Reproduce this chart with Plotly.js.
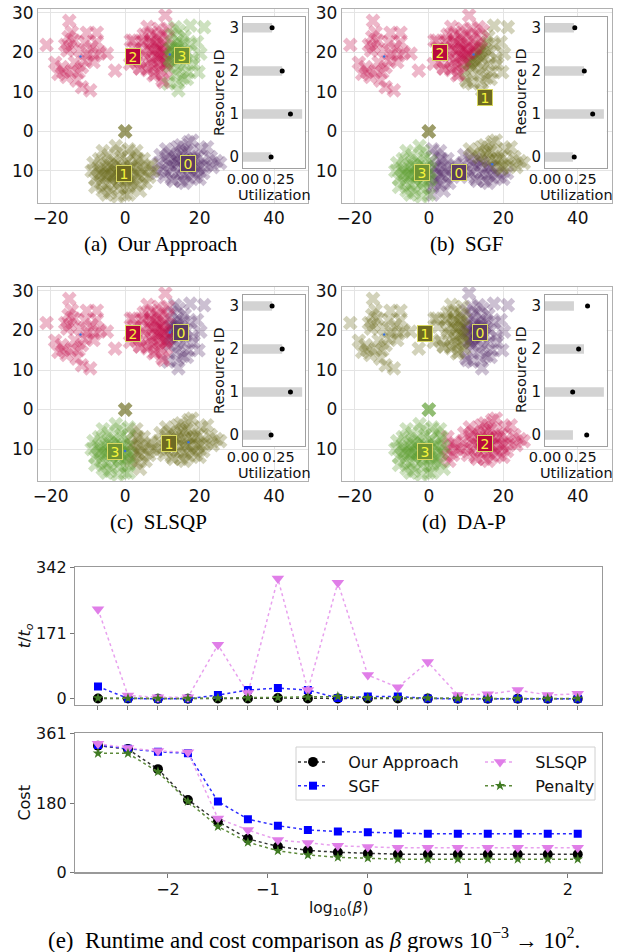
<!DOCTYPE html>
<html><head><meta charset="utf-8">
<script src="https://cdn.plot.ly/plotly-3.0.1.min.js"></script>
<style>html,body{margin:0;padding:0;background:#fff}</style>
</head><body><div id="chart" style="width:624px;height:952px"></div>
<script>
// ---------------- DATA ----------------
// Demand points (same point set in all four panels)
const ulPts = [[-15,28],[-10.3,25],[-7.6,25],[-15.2,23.9],[-13.7,23],[-16.1,21.9],[-14.8,21.4],[-12.1,20.5],[-10.8,22.6],[-9,21.4],[-4.9,19.7],[-8.1,19.2],[-8.5,17.6],[-11.6,16.3],[-14.3,15.4],[-16.6,15],[-17.9,14.6],[-15.7,13.8],[-13,12.9],[-11.6,11.2],[-9.4,10.4],[-2.7,15.4],[-21.1,21.9],[-18.8,17.4],[-7.6,22.6],[-10.8,18],[-17,16.3],[-12.5,15],[-10,19.6],[-14.3,25.1],[-6.7,20],[-15.5,20.5],[-13.5,17.5]];
const urPts = [[1.5,23],[2.5,21],[3,17.5],[4,16],[4.5,22.5],[5,24.5],[5.5,19],[6,21],[6,15.5],[6.5,23.5],[7,18],[7,25],[7.5,20.5],[7.5,16.5],[8,22],[8,14.5],[8.5,19],[8.5,24],[9,17],[9,21],[9.5,23],[9.5,15.5],[10,19.5],[10,25],[10,13],[10.5,17.5],[10.5,22],[10.8,29.4],[11,20],[11,15.5],[11.5,18],[11.5,23.5],[12,21],[12,16.5],[11.6,12.1],[12.5,19],[12.5,24.5],[13,22],[13,17.5],[13.5,20],[13.5,14.5],[14,23],[14,18.5],[14.5,25.5],[14.5,16],[15,21],[15,19],[15.5,22.5],[15.5,13.5],[16,17],[16,24],[16.5,20],[17.5,26.8],[17,15],[17.5,22],[18,18.5],[19.7,15],[20.2,19.7],[21.2,26.4],[13.4,26.4],[19.3,22.6],[18.4,17.1],[16.6,13.3],[13.9,12.5],[14.3,10.4],[10.3,12.5],[7.6,14.2],[4,15.9],[1.3,17.1],[2.2,23],[4.9,23],[5,20],[6.5,17],[8,20],[9,19],[10,21],[11,17],[12.5,21],[13,19.5],[14,20.5],[8.5,22.5],[7,22.5],[9.5,18],[10.5,20],[12,18],[14,21.5],[9,26],[6,26.5],[11.5,26]];
const llPts = [[-9,-10],[-8.5,-8],[-8,-12],[-7.5,-9.5],[-7,-11],[-7,-7],[-6.5,-13],[-6,-9],[-6,-15],[-5.5,-11],[-5,-8],[-5,-13.5],[-4.5,-10],[-4.5,-6],[-4,-12],[-4,-15.5],[-3.5,-9],[-3,-11],[-3,-7.5],[-3,-13],[-2.5,-3.7],[-2.5,-10],[-2,-12],[-2,-8.5],[-1.5,-14.5],[-1,-11],[-1,-6.5],[-0.5,-9],[0,-12.5],[0,-10],[0,-16],[0.5,-7.5],[1,-11],[1,-14],[1.5,-9],[2,-12],[2,-6],[2.5,-10.5],[3,-8],[3,-13.5],[3.5,-11],[4,-9.5],[4,-15],[4.5,-12],[5,-7],[5,-10],[5.5,-13],[6,-9],[6.5,-11.5],[7,-8.5],[7.5,-10],[-2,-16.5],[1,-16],[-5,-16],[-8,-14],[-6,-5],[1,-4.5],[-1.5,-5],[3,-5],[-3.5,-11.5],[-2,-10.5],[-1,-9.5],[0.5,-12],[-4,-8.5],[2,-9],[-6.5,-10.5],[-1.5,-13],[1.5,-13],[3.5,-7],[-5,-11]];
const lrPts = [[8.5,-10.5],[9,-8],[9.5,-6],[10,-9.5],[10.5,-11.5],[11,-7],[11.5,-10],[12,-5.5],[12,-8.5],[12.5,-12],[13,-9],[13.5,-6.5],[14,-10.5],[14,-4],[14.5,-8],[15,-12.5],[15,-6],[15.5,-9.5],[16,-7.5],[16,-11],[16.5,-5],[17,-9],[17,-2.7],[17.5,-7],[18,-10.5],[18,-5.5],[18.5,-8.5],[19,-11.5],[19.5,-6.5],[20,-9],[20.5,-4.5],[21,-7.5],[21,-10.5],[22,-4],[22,-8.5],[23,-6.5],[23.5,-9],[24.5,-7.5],[25.5,-8],[13,-12.5],[16,-13],[18,-2.3],[20,-12],[11,-4.5],[15,-3.5],[17,-12],[14,-7.5],[16.5,-9],[18.5,-7],[12.5,-7],[15.5,-5],[19.5,-9.5]];
const zPts = [[0,0],[0,0],[0,0]];
const centroids = [[-12,19],[12,19.5],[17,-8.3],[0,-10.5]];

// Per panel, per cluster: [idIfFalse, idIfTrue, a, b, c]  -> a*x+b*y > c ? idIfTrue : idIfFalse
const assignA = {ul:[2,2,1,0,0], ur:[2,3,1,0,11.5], ll:[1,1,1,0,0], lr:[0,0,1,0,0], z:[1,1,1,0,0]};
const assignB = {ul:[2,2,1,0,0], ur:[2,1,1.4,-1,-3], ll:[3,0,1,0,0.5], lr:[0,1,0.5,1,0], z:[1,1,1,0,0]};
const assignC = {ul:[2,2,1,0,0], ur:[2,0,1,0,11.5], ll:[3,1,1,0,1], lr:[1,1,1,0,0], z:[1,1,1,0,0]};
const assignD = {ul:[1,1,1,0,0], ur:[1,0,1,0,9.5], ll:[3,2,1,0,4], lr:[2,2,1,0,0], z:[3,3,1,0,0]};

// Resource label positions per panel: [id, x, y]
const labelsA = [[2,2.2,19.0],[3,15.2,19.2],[1,-0.4,-10.7],[0,17.0,-8.0]];
const labelsB = [[2,3.0,20.1],[1,15.2,8.7],[3,-1.9,-10.5],[0,8.2,-10.3]];
const labelsC = [[2,2.2,19.3],[0,15.1,19.6],[1,11.8,-8.5],[3,-2.7,-10.6]];
const labelsD = [[1,-1.0,19.2],[0,13.7,19.6],[3,-0.9,-10.6],[2,15.0,-8.5]];

// Inset: capacity bars and utilization dots for resources 0..3
const resourceIds = [0,1,2,3];
const capacity = [0.197,0.415,0.275,0.204];
const utilA = [0.197,0.333,0.275,0.204];
const utilB = [0.206,0.336,0.277,0.21];
const utilC = [0.197,0.333,0.275,0.204];
const utilD = [0.294,0.195,0.237,0.30];

// Runtime / cost comparison
const betaLog = [-2.7,-2.4,-2.1,-1.8,-1.5,-1.2,-0.9,-0.6,-0.3,0.0,0.3,0.6,0.9,1.2,1.5,1.8,2.1];
const rtOur   = [1,1,0,0,1,1,2,1,1,1,1,1,0,0,0,0,0];
const rtSGF   = [32,1,0,0,10,23,28,23,2,6,6,1,0,0,0,0,0];
const rtSLSQP = [234,9,4,4,141,15,314,23,303,62,30,96,10,12,23,10,13];
const rtPen   = [2,1,1,1,2,2,3,4,6,3,3,2,1,1,1,1,1];
const costOur   = [329,320,268,188,132,87,67,57,52,49,47,47,47,47,47,47,47];
const costSGF   = [331,321,313,309,184,138,121,110,106,104,101,100,100,100,100,100,100];
const costSLSQP = [334,323,315,312,140,110,84,76,69,66,64,64,64,64,64,64,64];
const costPen   = [309,309,261,184,119,78,56,45,39,37,34,34,34,34,34,34,34];

// ---------------- STYLE ----------------
const FONT = 'DejaVu Sans, sans-serif';
const SERIF = 'Liberation Serif, Times New Roman, serif';
const resColor = ['#55306a','#6b6a1a','#c4104c','#5a9a2c'];
const boxColor = ['#5a3b63','#6e6a22','#b8083e','#6f9434'];
const PAD = '\u00a0\u00a0\u00a0';

const traces = [];
const annotations = [];
const layout = {
  width:624, height:952, margin:{l:0,r:0,t:0,b:0},
  paper_bgcolor:'#fff', plot_bgcolor:'#fff',
  font:{family:FONT, size:15, color:'#111'},
  showlegend:true, annotations:annotations, shapes:[]
};

const panels = [
  {assign:assignA, labels:labelsA, util:utilA, xd:[0.0609,0.4936], yd:[0.7868,0.9905], ixd:[0.3894,0.4888], iyd:[0.8232,0.9825], cap:'(a)\u2002Our Approach', cx:161, cy:244, ox:0, oy:0},
  {assign:assignB, labels:labelsB, util:utilB, xd:[0.5476,0.9803], yd:[0.7868,0.9905], ixd:[0.8734,0.9723], iyd:[0.8232,0.9825], cap:'(b)\u2002SGF', cx:467, cy:244, ox:302, oy:0},
  {assign:assignC, labels:labelsC, util:utilC, xd:[0.0609,0.4936], yd:[0.4947,0.6985], ixd:[0.3894,0.4888], iyd:[0.5312,0.6904], cap:'(c)\u2002SLSQP', cx:158, cy:522, ox:0, oy:278},
  {assign:assignD, labels:labelsD, util:utilD, xd:[0.5476,0.9803], yd:[0.4947,0.6985], ixd:[0.8734,0.9723], iyd:[0.5312,0.6904], cap:'(d)\u2002DA-P', cx:464, cy:522, ox:302, oy:278}
];
const clusters = {ul:ulPts, ur:urPts, ll:llPts, lr:lrPts, z:zPts};

panels.forEach((p, k) => {
  const mi = 2*k+1, ii = 2*k+2;
  const mx = mi===1 ? 'x' : 'x'+mi, my = mi===1 ? 'y' : 'y'+mi;
  const ix = 'x'+ii, iy = 'y'+ii;
  const xs = [[],[],[],[]], ys = [[],[],[],[]];
  Object.keys(clusters).forEach(c => {
    const r = p.assign[c];
    clusters[c].forEach(pt => {
      const id = (r[2]*pt[0] + r[3]*pt[1] > r[4]) ? r[1] : r[0];
      xs[id].push(pt[0]); ys[id].push(pt[1]);
    });
  });
  for (let id=0; id<4; id++) {
    traces.push({type:'scatter', mode:'markers', x:xs[id], y:ys[id], xaxis:mx, yaxis:my,
      marker:{symbol:'x', size:13, color:resColor[id], opacity:0.3, line:{width:0}},
      showlegend:false, hoverinfo:'skip'});
  }
  traces.push({type:'scatter', mode:'markers', x:centroids.map(c=>c[0]), y:centroids.map(c=>c[1]),
    xaxis:mx, yaxis:my, marker:{size:2.5, color:'#3a6fd8'}, showlegend:false, hoverinfo:'skip'});
  // inset
  traces.push({type:'bar', orientation:'h', x:capacity, y:resourceIds, width:0.22, xaxis:ix, yaxis:iy,
    marker:{color:'#d3d3d3', line:{width:0}}, showlegend:false, hoverinfo:'skip'});
  traces.push({type:'scatter', mode:'markers', x:p.util, y:resourceIds, xaxis:ix, yaxis:iy,
    marker:{size:5, color:'#000'}, showlegend:false, hoverinfo:'skip'});

  const axKeyX = mi===1 ? 'xaxis' : 'xaxis'+mi, axKeyY = mi===1 ? 'yaxis' : 'yaxis'+mi;
  layout[axKeyX] = {domain:p.xd, anchor:my, range:[-23.4,49.1], tickmode:'array', tickvals:[-20,0,20,40],
    showgrid:true, gridcolor:'#e4e4e4', gridwidth:1, zeroline:false, showline:true, mirror:true,
    linecolor:'#b0b0b0', linewidth:1, ticks:'', tickfont:{size:17, family:FONT, color:'#111'}};
  layout[axKeyY] = {domain:p.yd, anchor:mx, range:[-18.1,31], tickmode:'array', tickvals:[-10,0,10,20,30],
    ticktext:['10','0','10','20','30'], showgrid:true, gridcolor:'#e4e4e4', zeroline:false, showline:true,
    mirror:true, linecolor:'#b0b0b0', linewidth:1, ticks:'', tickfont:{size:17, family:FONT, color:'#111'}};
  layout['xaxis'+ii] = {domain:p.ixd, anchor:iy, range:[0,0.435], tickmode:'array', tickvals:[0,0.25],
    ticktext:['0.00','0.25'], showgrid:false, zeroline:false, showline:true, mirror:true, linecolor:'#a0a0a0',
    ticks:'', ticklabelstandoff:-3, tickfont:{size:14.5, family:FONT, color:'#111'}};
  layout['yaxis'+ii] = {domain:p.iyd, anchor:ix, range:[-0.26,3.26], tickmode:'array', tickvals:[0,1,2,3],
    showgrid:false, zeroline:false, showline:true, mirror:true, linecolor:'#a0a0a0', ticks:'',
    tickfont:{size:15, family:FONT, color:'#111'}};
  // inset axis titles
  annotations.push({xref:'paper', yref:'paper', x:(274+p.ox)/624, y:1-(195+p.oy)/952, xanchor:'center', yanchor:'middle',
    text:'Utilization', showarrow:false, font:{size:14.5, family:FONT, color:'#111'}});
  annotations.push({xref:'paper', yref:'paper', x:(219+p.ox)/624, y:1-(92+p.oy)/952, xanchor:'center', yanchor:'middle',
    text:'Resource ID', textangle:-90, showarrow:false, font:{size:14.5, family:FONT, color:'#111'}});

  p.labels.forEach(l => {
    annotations.push({xref:mx, yref:my, x:l[1], y:l[2], text:String(l[0]), showarrow:false,
      bgcolor:boxColor[l[0]], bordercolor:'#d8d860', borderwidth:1, borderpad:0, width:14, height:15,
      font:{size:14, family:FONT, color:'#f4f43a'}});
  });
  annotations.push({xref:'paper', yref:'paper', x:p.cx/624, y:1-p.cy/952, xanchor:'center', yanchor:'middle',
    text:p.cap, showarrow:false, font:{family:SERIF, size:21, color:'#000'}});
});

// ---- runtime & cost charts ----
const series = [
  {name:'Our Approach', rt:rtOur, cost:costOur, color:'#000000', sym:'circle', size:10, lg:'legend'},
  {name:'SGF', rt:rtSGF, cost:costSGF, color:'#0000ff', sym:'square', size:8, lg:'legend'},
  {name:'SLSQP', rt:rtSLSQP, cost:costSLSQP, color:'#e07ee8', sym:'triangle-down', size:11, lg:'legend2'},
  {name:'Penalty', rt:rtPen, cost:costPen, color:'#3f7a22', sym:'star', size:8, lg:'legend2'}
];
const lineColor = {'Our Approach':'#333333','SGF':'#2a2aff','SLSQP':'#e8a0ee','Penalty':'#5d8a3a'};
series.forEach(s => {
  traces.push({type:'scatter', mode:'lines+markers', x:betaLog, y:s.rt, xaxis:'x9', yaxis:'y9', name:s.name,
    line:{color:lineColor[s.name], dash:'dot', width:1.5}, marker:{symbol:s.sym, size:s.size, color:s.color},
    showlegend:false, hoverinfo:'skip'});
});
series.forEach(s => {
  traces.push({type:'scatter', mode:'lines+markers', x:betaLog, y:s.cost, xaxis:'x10', yaxis:'y10', name:PAD+s.name,
    legend:s.lg, line:{color:lineColor[s.name], dash:'dot', width:1.5}, marker:{symbol:s.sym, size:s.size, color:s.color},
    hoverinfo:'skip'});
});

const frame = {showline:true, mirror:true, linecolor:'#999', linewidth:1.2, showgrid:false, zeroline:false};
layout.xaxis9 = Object.assign({domain:[0.1202,0.9643], anchor:'y9', range:[-2.93,2.34], tickmode:'array',
  tickvals:betaLog, showticklabels:false, ticks:'outside', ticklen:4, tickcolor:'#777'}, frame);
layout.yaxis9 = Object.assign({domain:[0.2595,0.4047], anchor:'x9', range:[-16,345], tickmode:'array',
  tickvals:[0,171,342], ticks:'outside', ticklen:4, tickcolor:'#777', tickfont:{size:16, family:FONT, color:'#111'},
  title:{text:'<i>t</i>/<i>t</i><sub><i>o</i></sub>', font:{size:16, family:FONT, color:'#111'}, standoff:1}}, frame);
layout.xaxis10 = Object.assign({domain:[0.1202,0.9643], anchor:'y10', range:[-2.93,2.34], tickmode:'array',
  tickvals:[-2,-1,0,1,2], ticks:'outside', ticklen:4, tickcolor:'#777', ticklabelstandoff:-2,
  tickfont:{size:16, family:FONT, color:'#111'}}, frame);
layout.yaxis10 = Object.assign({domain:[0.0837,0.2297], anchor:'x10', range:[0,361], tickmode:'array',
  tickvals:[0,180,361], ticks:'outside', ticklen:4, tickcolor:'#777', tickfont:{size:16, family:FONT, color:'#111'},
  title:{text:'Cost', font:{size:16, family:FONT, color:'#111'}, standoff:1}}, frame);
annotations.push({xref:'paper', yref:'paper', x:338/624, y:1-909/952, xanchor:'center', yanchor:'middle', showarrow:false,
  text:'log<sub>10</sub>(<i>β</i>)', font:{size:15.5, family:FONT, color:'#111'}});

layout.legend = {x:293/624, y:1-745/952, xanchor:'left', yanchor:'top', bgcolor:'rgba(0,0,0,0)', borderwidth:0,
  font:{size:16, family:FONT, color:'#111'}, tracegroupgap:0};
layout.legend2 = {x:480/624, y:1-745/952, xanchor:'left', yanchor:'top', bgcolor:'rgba(0,0,0,0)', borderwidth:0,
  font:{size:16, family:FONT, color:'#111'}, tracegroupgap:0};
layout.shapes.push({type:'rect', xref:'paper', yref:'paper', x0:296/624, x1:595/624, y0:1-800/952, y1:1-747/952,
  line:{color:'#d0d0d0', width:1}, fillcolor:'rgba(255,255,255,0.85)', layer:'below'});

annotations.push({xref:'paper', yref:'paper', x:314/624, y:1-938/952, xanchor:'center', yanchor:'middle', showarrow:false,
  text:'(e)  Runtime and cost comparison as <i>β</i> grows 10<sup>−3</sup> → 10<sup>2</sup>.',
  font:{family:SERIF, size:23, color:'#000'}});

Plotly.newPlot('chart', traces, layout, {staticPlot:true, displayModeBar:false});
</script>
</body></html>
